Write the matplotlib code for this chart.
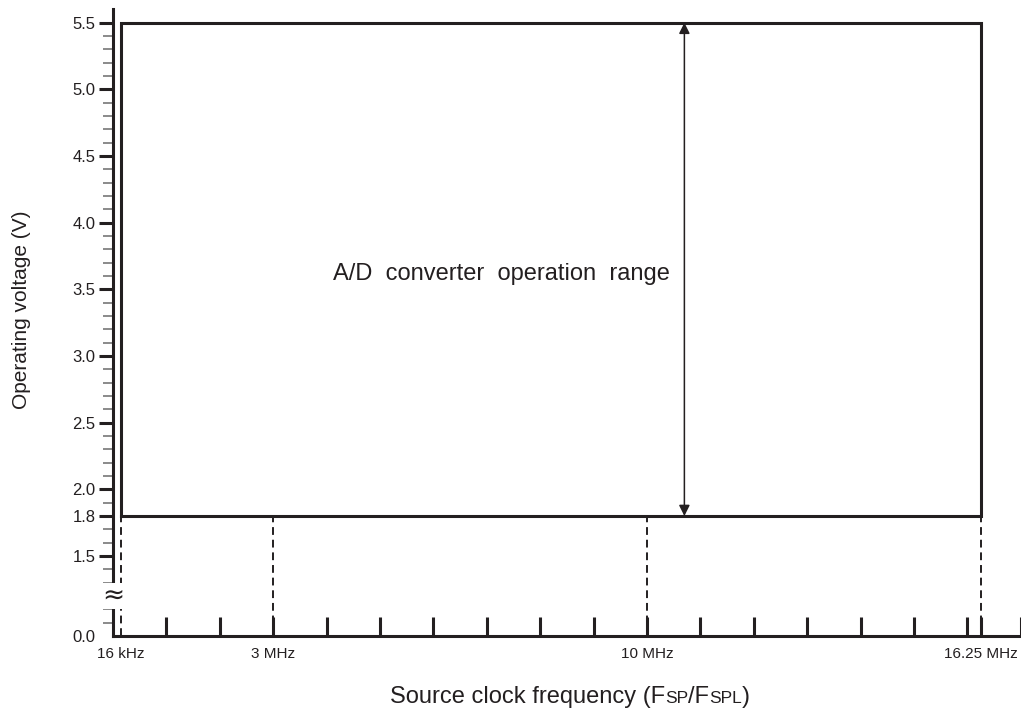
import numpy as np
import matplotlib
matplotlib.use("Agg")
import matplotlib.pyplot as plt
from matplotlib.offsetbox import TextArea, HPacker, AnnotationBbox

plt.rcParams['font.family'] = ['Liberation Sans', 'DejaVu Sans']
ink = '#231f20'

# operating range (MHz / V); 16 kHz is drawn just right of the axis, not to scale
freq_pos = [0.15, 3, 10, 16.25]
freq_labels = ['16 kHz', '3 MHz', '10 MHz', '16.25 MHz']
v_min, v_max = 1.8, 5.5
arrow_x = 10.7

# y axis is broken below 1.5 V: the "0.0" label sits where 0.9 V would be
y_major = [0.9, 1.5, 1.8, 2.0, 2.5, 3.0, 3.5, 4.0, 4.5, 5.0, 5.5]
y_major_labels = ['0.0', '1.5', '1.8', '2.0', '2.5', '3.0', '3.5', '4.0', '4.5', '5.0', '5.5']
y_minor = [1.0, 1.1, 1.3, 1.4, 1.6, 1.7, 1.9, 2.1, 2.2, 2.3, 2.4, 2.6, 2.7, 2.8, 2.9,
           3.1, 3.2, 3.3, 3.4, 3.6, 3.7, 3.8, 3.9, 4.1, 4.2, 4.3, 4.4, 4.6, 4.7, 4.8, 4.9,
           5.1, 5.2, 5.3, 5.4]
x_minor = list(range(1, 18))

W, H = 1021, 715
fig = plt.figure(figsize=(W/100, H/100), dpi=100)
ax = fig.add_axes([113/W, (H-636)/H, (1020.8-113)/W, (636-9.4)/H])
ax.set_xlim(0, 17)
ax.set_ylim(0.9, 5.6)

for s in ['top', 'right']:
    ax.spines[s].set_visible(False)
for s in ['left', 'bottom']:
    ax.spines[s].set_linewidth(2.2)
    ax.spines[s].set_color(ink)

# operating range box
x0, x1 = freq_pos[0], freq_pos[-1]
ax.plot([x0, x0, x1, x1, x0], [v_min, v_max, v_max, v_min, v_min],
        color=ink, lw=2.2, solid_joinstyle='miter', zorder=3)

# dashed drop lines
for xp in freq_pos:
    ax.plot([xp, xp], [0.9, v_min], color=ink, lw=1.4, ls=(0, (4, 2.5)), zorder=2)

# double arrow
ax.annotate('', xy=(arrow_x, v_max), xytext=(arrow_x, v_min),
            arrowprops=dict(arrowstyle='<|-|>', color=ink, lw=1.1,
                            mutation_scale=16, shrinkA=0, shrinkB=0))
fig.text(670/W, (H-280)/H, 'A/D  converter  operation  range', ha='right',
         va='baseline', fontsize=17, color=ink)

# y ticks
ax.set_yticks(y_major)
ax.set_yticklabels(y_major_labels)
ax.set_yticks(y_minor, minor=True)
ax.tick_params(axis='y', which='major', direction='out', length=10, width=2.2,
               color=ink, labelsize=12, labelcolor=ink, pad=2.5)
ax.tick_params(axis='y', which='minor', direction='out', length=7, width=1.4,
               color='#8a8a8a')
ax.yaxis.get_major_ticks()[0].tick1line.set_visible(False)

# x ticks
ax.set_xticks(freq_pos)
ax.set_xticklabels(freq_labels)
ax.set_xticks(x_minor, minor=True)
ax.tick_params(axis='x', which='both', direction='in', length=14, width=2.2, color=ink)
ax.tick_params(axis='x', which='major', labelsize=11, labelcolor=ink, pad=8)
ax.xaxis.get_major_ticks()[0].tick1line.set_visible(False)

# axis break mark
ax.text(0, 1.2, '≈', ha='center', va='center', fontsize=19, color=ink,
        family='DejaVu Sans', clip_on=False,
        bbox=dict(facecolor='white', edgecolor='none', pad=0.1))

fig.text(22/W, (H-310)/H, 'Operating voltage (V)', rotation=90,
         ha='center', va='center', fontsize=15, color=ink)

# x label with small-caps subscripts on the baseline
big = dict(fontsize=17, color=ink)
small = dict(fontsize=12.5, color=ink)
parts = [TextArea('Source clock frequency (F', textprops=big),
         TextArea('SP', textprops=small),
         TextArea('/F', textprops=big),
         TextArea('SPL', textprops=small),
         TextArea(')', textprops=big)]
box = HPacker(children=parts, align='baseline', pad=0, sep=0)
ab = AnnotationBbox(box, (570/W, (H-697)/H), xycoords='figure fraction',
                    box_alignment=(0.5, 0.5), frameon=False)
fig.add_artist(ab)

fig.savefig('out.png', dpi=100)
